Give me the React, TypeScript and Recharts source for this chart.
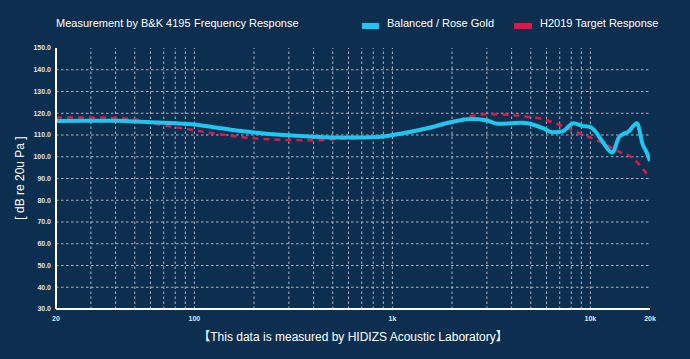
import React from 'react';
import { LineChart, Line, XAxis, YAxis, ReferenceLine } from 'recharts';

const balancedFreq = [20, 30, 40, 50, 60, 80, 100, 125, 180, 270, 400, 600, 850, 1100, 1500, 2000, 2500, 3000, 3400, 4000, 4500, 5200, 5800, 6400, 7200, 8200, 9100, 10000, 10600, 11500, 12900, 14000, 15600, 17200, 18300, 19500, 20000];
const balancedDb = [116.4, 116.5, 116.5, 116.2, 115.9, 115.4, 114.8, 113.6, 111.6, 110.1, 109.2, 108.8, 109.1, 110.6, 113.1, 116.0, 117.3, 116.7, 115.2, 115.4, 115.6, 114.6, 113.0, 111.3, 111.6, 115.4, 114.2, 113.6, 111.6, 107.0, 101.9, 109.2, 111.6, 115.4, 106.2, 100.8, 98.0];

const targetFreq = [20, 30, 40, 50, 60, 85, 125, 180, 270, 400, 550, 800, 1100, 1460, 2200, 2400, 3000, 3800, 4800, 5600, 7000, 8800, 11200, 14000, 16400, 18300, 20000];
const targetDb = [118.1, 118.1, 117.9, 117.1, 115.5, 113.2, 110.8, 108.9, 107.8, 107.6, 108.2, 108.9, 110.3, 112.3, 116.9, 118.4, 119.5, 119.3, 118.4, 117.6, 114.6, 110.8, 106.9, 102.3, 99.3, 94.7, 90.1];

const xTicks = [20, 100, 1000, 10000, 20000];
const xTickLabels = ['20', '100', '1k', '10k', '20k'];
const yTicks = [30, 40, 50, 60, 70, 80, 90, 100, 110, 120, 130, 140, 150];
const xGrid = [30, 40, 50, 60, 70, 80, 90, 100, 200, 300, 400, 500, 600, 700, 800, 900, 1000, 2000, 3000, 4000, 5000, 6000, 7000, 8000, 9000, 10000];
const yGrid = [40, 50, 60, 70, 80, 90, 100, 110, 120, 130, 140];

const balancedData = balancedFreq.map((f, i) => ({ f, v: balancedDb[i] }));
const targetData = targetFreq.map((f, i) => ({ f, v: targetDb[i] }));

const BG = '#0c2f50';
const CYAN = '#1ec7f0';
const RED = '#e2164b';
const GRID = '#a9b7c6';
const FONT = '"Liberation Sans", Arial, Helvetica, sans-serif';

export default function App() {
  return (
    <div style={{ position: 'absolute', left: 0, top: 0, width: 690, height: 359, background: BG, fontFamily: FONT, overflow: 'hidden' }}>
      <div style={{ position: 'absolute', left: 56, top: 17, color: '#ffffff', fontSize: 11, whiteSpace: 'nowrap' }}>
        Measurement by B&amp;K 4195
      </div>
      <div style={{ position: 'absolute', left: 194, top: 17, color: '#ffffff', fontSize: 11, whiteSpace: 'nowrap' }}>
        Frequency Response
      </div>
      <div style={{ position: 'absolute', left: 362, top: 23, width: 17, height: 6, background: CYAN }} />
      <div style={{ position: 'absolute', left: 387, top: 17, color: '#ffffff', fontSize: 11, whiteSpace: 'nowrap' }}>
        Balanced / Rose Gold
      </div>
      <div style={{ position: 'absolute', left: 514, top: 23, width: 18, height: 6, background: RED }} />
      <div style={{ position: 'absolute', left: 540, top: 17, color: '#ffffff', fontSize: 11, whiteSpace: 'nowrap' }}>
        H2019 Target Response
      </div>
      <div style={{ position: 'absolute', left: 20, top: 178, width: 0, height: 0 }}>
        <div style={{ position: 'absolute', transform: 'translate(-50%, -50%) rotate(-90deg)', color: '#ffffff', fontSize: 12, whiteSpace: 'nowrap' }}>
          [ dB re 20u Pa ]
        </div>
      </div>
      <div style={{ position: 'absolute', left: 0, width: 706, top: 327, textAlign: 'center', color: '#ffffff', fontSize: 12, whiteSpace: 'nowrap', fontFamily: FONT + ', "Noto Sans CJK SC"' }}>
        【This data is measured by HIDIZS Acoustic Laboratory】
      </div>
      <div style={{ position: 'absolute', left: 0, top: 0 }}>
        <LineChart width={690} height={359} margin={{ top: 48, right: 40, left: 16, bottom: 0 }}>
          <XAxis
            dataKey="f"
            type="number"
            scale="log"
            domain={[20, 20000]}
            ticks={xTicks}
            tickFormatter={(v: number) => xTickLabels[xTicks.indexOf(v)] ?? String(v)}
            allowDataOverflow
            height={50}
            tickLine={false}
            tickSize={5}
            axisLine={{ stroke: '#ffffff', strokeWidth: 2 }}
            tick={{ fill: '#dfe5ec', fontSize: 7, fontWeight: 700, fontFamily: FONT }}
          />
          <YAxis
            type="number"
            domain={[30, 150]}
            ticks={yTicks}
            tickFormatter={(v: number) => v.toFixed(1)}
            width={40}
            tickLine={false}
            tickSize={3}
            axisLine={{ stroke: '#ffffff', strokeWidth: 2 }}
            tick={{ fill: '#dfe5ec', fontSize: 7, fontWeight: 700, fontFamily: FONT }}
          />
          {yGrid.map((y) => (
            <ReferenceLine key={'y' + y} y={y} stroke={GRID} strokeWidth={1} strokeDasharray="2.5 2.5" />
          ))}
          {xGrid.map((x) => (
            <ReferenceLine key={'x' + x} x={x} stroke={GRID} strokeWidth={1} strokeDasharray="2.5 2.5" />
          ))}
          <Line
            data={targetData}
            dataKey="v"
            type="monotone"
            stroke={RED}
            strokeWidth={2.5}
            strokeDasharray="6 5"
            dot={false}
            isAnimationActive={false}
          />
          <Line
            data={balancedData}
            dataKey="v"
            type="monotone"
            stroke={CYAN}
            strokeWidth={4}
            dot={false}
            isAnimationActive={false}
          />
        </LineChart>
      </div>
    </div>
  );
}
